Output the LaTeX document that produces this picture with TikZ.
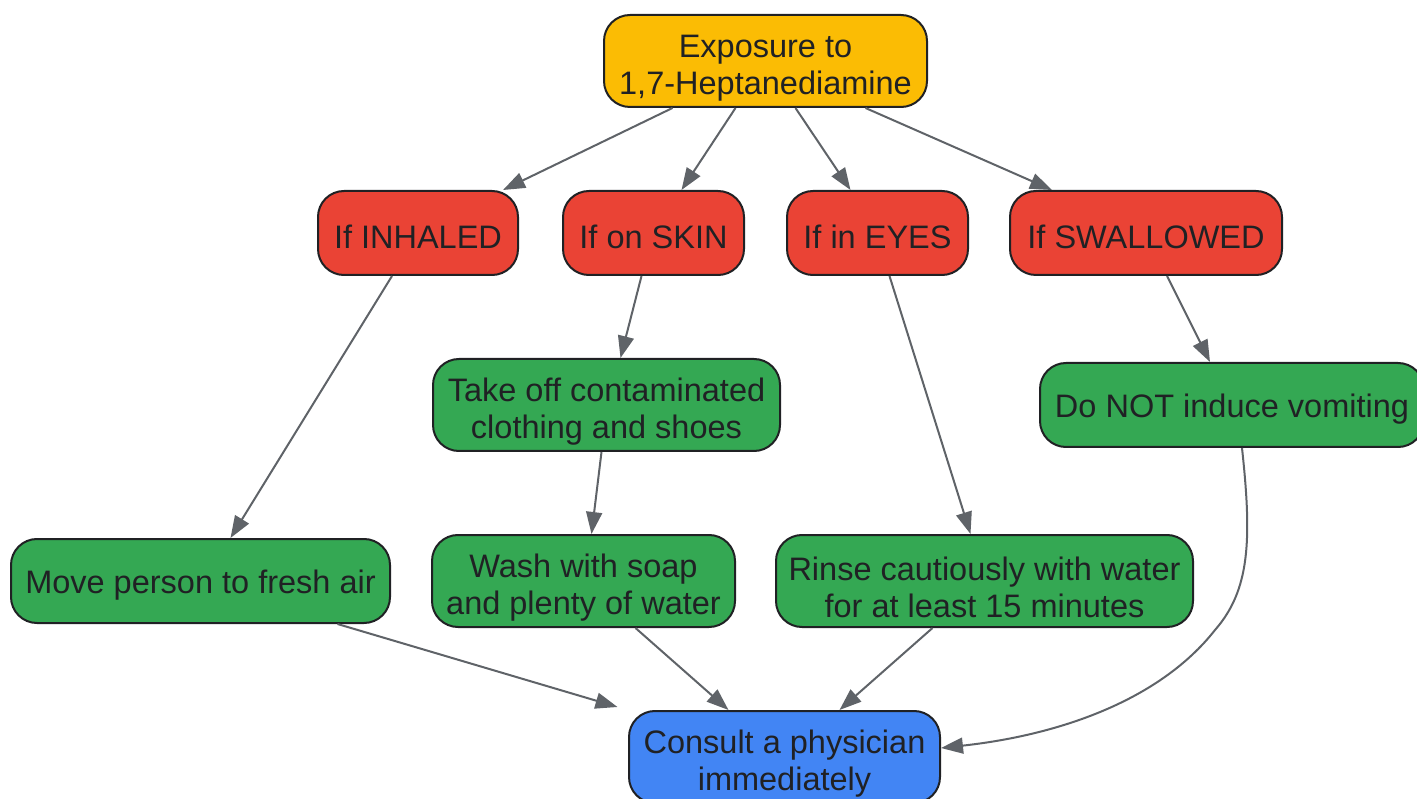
\documentclass[tikz,border=0pt]{standalone}
\usepackage{fontspec}
\setmainfont{Liberation Sans}
\usetikzlibrary{arrows.meta}
\definecolor{cyellow}{HTML}{FBBC04}
\definecolor{cred}{HTML}{EA4335}
\definecolor{cgreen}{HTML}{34A853}
\definecolor{cblue}{HTML}{4285F4}
\definecolor{cborder}{HTML}{202124}
\definecolor{cedge}{HTML}{5F6368}
\newcommand{\fl}{\rule{0pt}{36pt}}
\tikzset{
  box/.style={draw=cborder, line width=2pt, rounded corners=26pt, inner sep=0pt,
    align=center, text=cborder, font=\fontsize{32.5}{37}\selectfont},
  one/.style={execute at begin node={\rule{0pt}{31pt}}},
  ybox/.style={box, fill=cyellow},
  rbox/.style={box, fill=cred},
  gbox/.style={box, fill=cgreen},
  bbox/.style={box, fill=cblue},
  conn/.style={draw=cedge, line width=2pt, -{Triangle[length=22pt,width=16pt]}},
}
\begin{document}
\begin{tikzpicture}[x=1pt,y=-1pt]
\useasboundingbox (0,0) rectangle (1417,799);
\node[ybox, minimum width=323pt, minimum height=92pt] (ex) at (765.5,61) {\fl Exposure to\\1,7-Heptanediamine};
\node[rbox, one, minimum width=200pt, minimum height=84pt] (inh) at (418,233) {If INHALED};
\node[rbox, one, minimum width=181pt, minimum height=84pt] (skin) at (653.5,233) {If on SKIN};
\node[rbox, one, minimum width=181pt, minimum height=84pt] (eyes) at (877.5,233) {If in EYES};
\node[rbox, one, minimum width=272pt, minimum height=84pt] (swal) at (1146,233) {If SWALLOWED};
\node[gbox, minimum width=347pt, minimum height=92pt] (take) at (606.5,405) {\fl Take off contaminated\\clothing and shoes};
\node[gbox, one, minimum width=384pt, minimum height=84pt] (donot) at (1232,405) {Do NOT induce vomiting};
\node[gbox, one, minimum width=379pt, minimum height=84pt] (move) at (200.5,581) {Move person to fresh air};
\node[gbox, minimum width=303pt, minimum height=92pt] (wash) at (583.5,581) {\fl Wash with soap\\and plenty of water};
\node[gbox, minimum width=417pt, minimum height=92pt] (rinse) at (984.5,581) {\fl Rinse cautiously with water\\for at least 15 minutes};
\node[bbox, minimum width=311pt, minimum height=92pt] (cons) at (784.5,757) {\fl Consult a physician\\immediately};

\draw[conn] ([xshift=-93pt]ex.south) -- ([xshift=85pt]inh.north);
\draw[conn] ([xshift=-30pt]ex.south) -- ([xshift=28pt]skin.north);
\draw[conn] ([xshift=30pt]ex.south) -- ([xshift=-27pt]eyes.north);
\draw[conn] ([xshift=100pt]ex.south) -- ([xshift=-94pt]swal.north);
\draw[conn] ([xshift=-26pt]inh.south) -- ([xshift=30pt]move.north);
\draw[conn] ([xshift=-12pt]skin.south) -- ([xshift=14pt]take.north);
\draw[conn] ([xshift=12pt]eyes.south) -- ([xshift=-14pt]rinse.north);
\draw[conn] ([xshift=21pt]swal.south) -- ([xshift=-22pt]donot.north);
\draw[conn] ([xshift=-5pt]take.south) -- ([xshift=8pt]wash.north);
\draw[conn] ([xshift=10pt]donot.south) .. controls (1252,540) and (1250,590) .. (1215,630) .. controls (1160,700) and (1060,735) .. ([yshift=9pt]cons.east);
\draw[conn] ([xshift=137pt]move.south) -- ([xshift=-167pt,yshift=3pt]cons.north);
\draw[conn] ([xshift=52pt]wash.south) -- ([xshift=-56pt]cons.north);
\draw[conn] ([xshift=-52pt]rinse.south) -- ([xshift=55pt]cons.north);
\end{tikzpicture}
\end{document}
